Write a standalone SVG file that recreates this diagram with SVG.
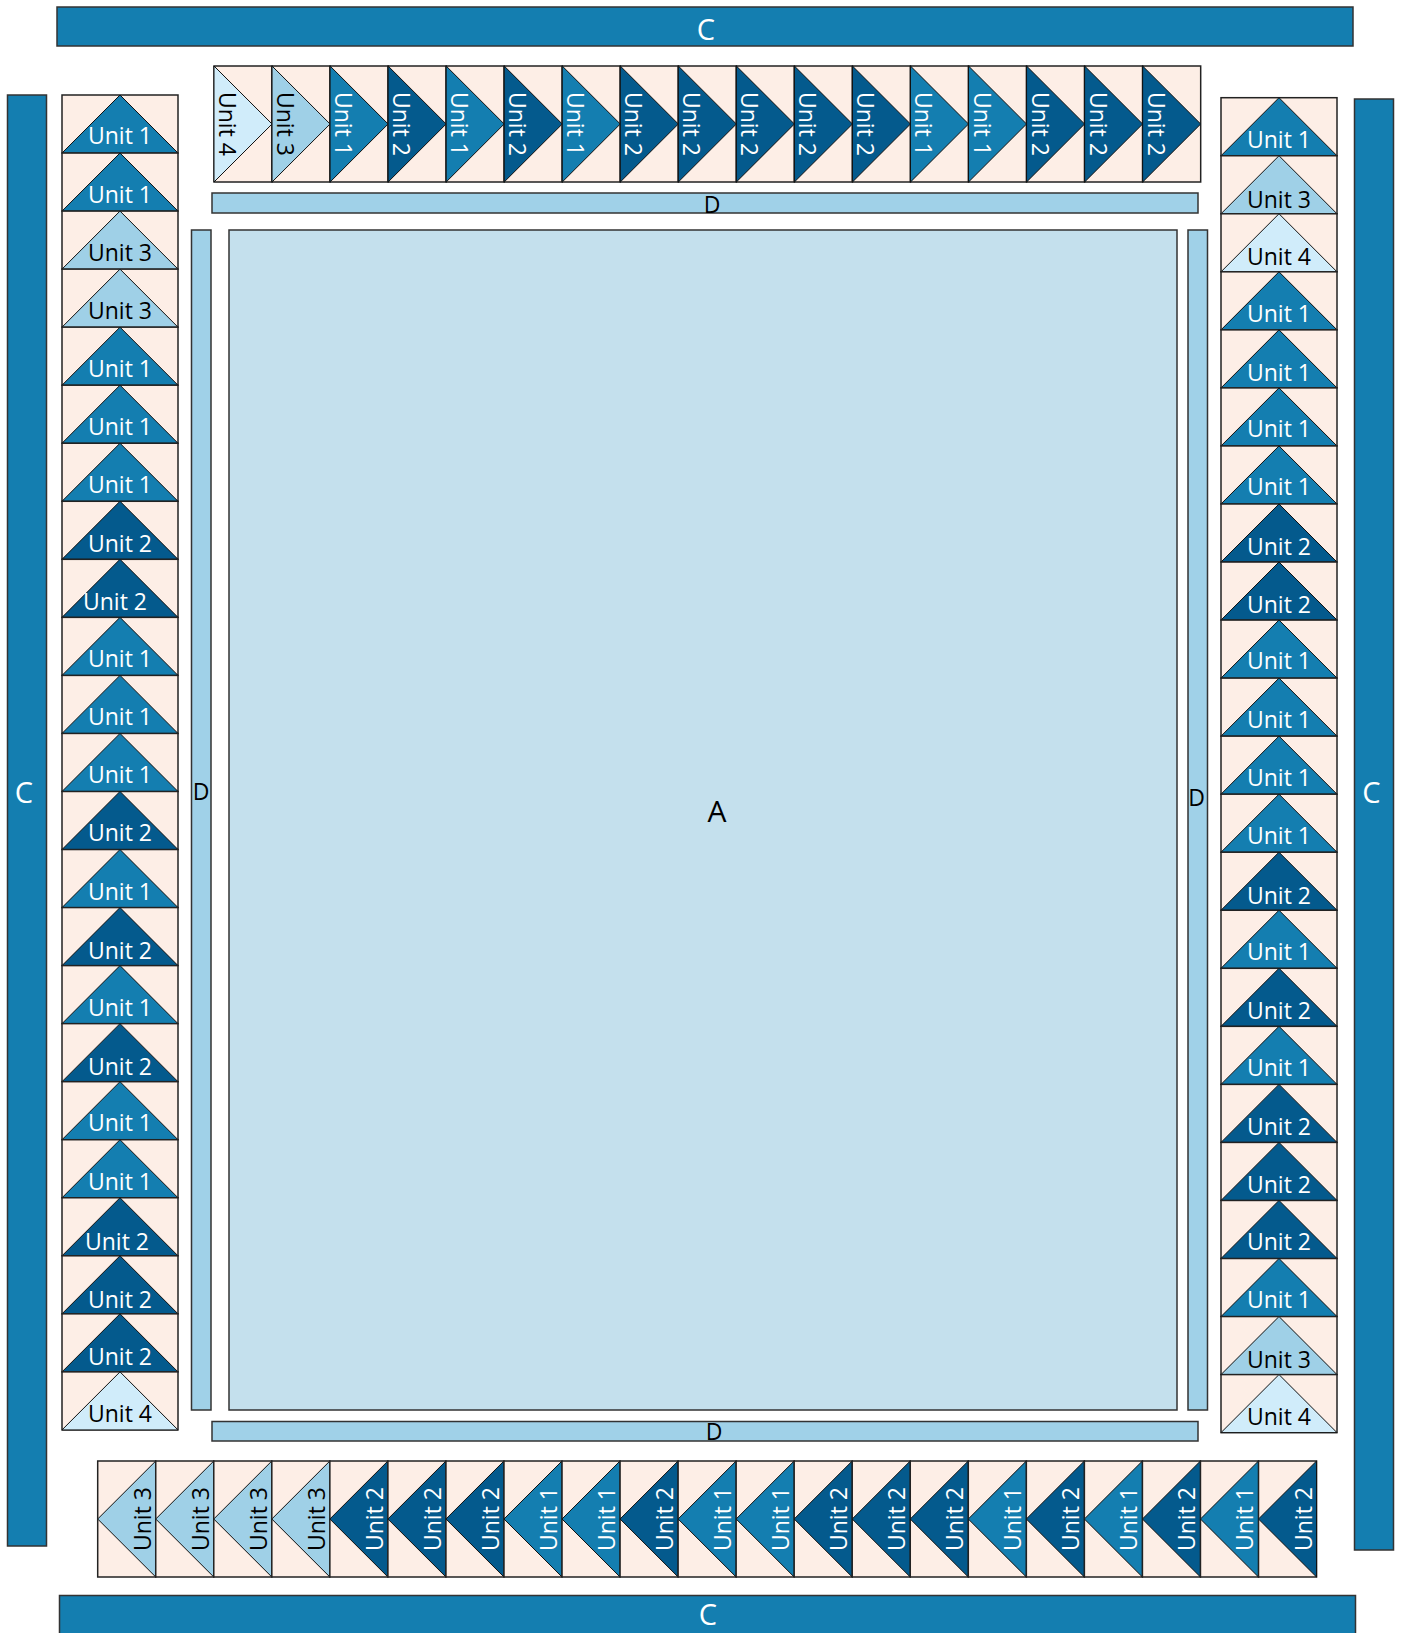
<svg xmlns="http://www.w3.org/2000/svg" width="1403" height="1633" viewBox="0 0 1403 1633">
<style>
text{font-family:"Open Sans","Noto Sans","Liberation Sans",sans-serif;}
.bg{fill:#fdeee6;stroke:#222;stroke-width:1.5;}
.u1{fill:#147eb0;stroke:#111;stroke-width:1;}
.u2{fill:#045a8d;stroke:#111;stroke-width:1;}
.u3{fill:#9fd0e7;stroke:#111;stroke-width:1;}
.u4{fill:#d0ecfa;stroke:#111;stroke-width:1;}
.w{fill:#ffffff;font-size:23px;text-anchor:middle;}
.k{fill:#000000;font-size:23px;text-anchor:middle;}
.cbar{fill:#147eb0;stroke:#333;stroke-width:1.5;}
.dbar{fill:#a0d1e8;stroke:#333;stroke-width:1.5;}
.abox{fill:#c4e0ed;stroke:#333;stroke-width:1.5;}
.lc{fill:#ffffff;font-size:29px;text-anchor:middle;}
.ld{fill:#000000;font-size:23px;text-anchor:middle;}
.la{fill:#000000;font-size:30px;text-anchor:middle;}
</style>
<rect width="1403" height="1633" fill="#ffffff"/>
<g id="connectors"/>

<g id="C-top"><rect class="cbar" x="57" y="7" width="1296" height="39"/><text class="lc" x="706" y="40">C</text></g>
<g id="C-left"><rect class="cbar" x="7.5" y="95" width="39" height="1451"/><text class="lc" x="24" y="803">C</text></g>
<g id="C-right"><rect class="cbar" x="1354.5" y="99" width="39" height="1451"/><text class="lc" x="1371.5" y="803">C</text></g>
<g id="C-bottom"><rect class="cbar" x="59.5" y="1595.5" width="1296" height="45"/><text class="lc" x="708" y="1625">C</text></g>

<g id="D-top"><rect class="dbar" x="212" y="193" width="986" height="20"/><text class="ld" x="712" y="213">D</text></g>
<g id="D-bottom"><rect class="dbar" x="212" y="1421.5" width="986" height="19.5"/><text class="ld" x="714" y="1440">D</text></g>
<g id="D-left"><rect class="dbar" x="191.5" y="230" width="19.5" height="1180"/><text class="ld" x="201" y="800">D</text></g>
<g id="D-right"><rect class="dbar" x="1188" y="230" width="19.5" height="1180"/><text class="ld" x="1196.5" y="806">D</text></g>

<g id="A"><rect class="abox" x="229" y="230" width="948" height="1180"/><text class="la" x="717" y="822">A</text></g>

<!-- top row -->
<g id="T0" transform="translate(214,66)"><rect class="bg" width="58.04" height="116"/><polygon class="u4" points="0,0 58.04,58 0,116"/><text class="k" transform="translate(5,58) rotate(90)">Unit 4</text></g>
<g id="T1" transform="translate(272.04,66)"><rect class="bg" width="58.04" height="116"/><polygon class="u3" points="0,0 58.04,58 0,116"/><text class="k" transform="translate(5,58) rotate(90)">Unit 3</text></g>
<g id="T2" transform="translate(330.08,66)"><rect class="bg" width="58.04" height="116"/><polygon class="u1" points="0,0 58.04,58 0,116"/><text class="w" transform="translate(5,58) rotate(90)">Unit 1</text></g>
<g id="T3" transform="translate(388.12,66)"><rect class="bg" width="58.04" height="116"/><polygon class="u2" points="0,0 58.04,58 0,116"/><text class="w" transform="translate(5,58) rotate(90)">Unit 2</text></g>
<g id="T4" transform="translate(446.16,66)"><rect class="bg" width="58.04" height="116"/><polygon class="u1" points="0,0 58.04,58 0,116"/><text class="w" transform="translate(5,58) rotate(90)">Unit 1</text></g>
<g id="T5" transform="translate(504.2,66)"><rect class="bg" width="58.04" height="116"/><polygon class="u2" points="0,0 58.04,58 0,116"/><text class="w" transform="translate(5,58) rotate(90)">Unit 2</text></g>
<g id="T6" transform="translate(562.24,66)"><rect class="bg" width="58.04" height="116"/><polygon class="u1" points="0,0 58.04,58 0,116"/><text class="w" transform="translate(5,58) rotate(90)">Unit 1</text></g>
<g id="T7" transform="translate(620.28,66)"><rect class="bg" width="58.04" height="116"/><polygon class="u2" points="0,0 58.04,58 0,116"/><text class="w" transform="translate(5,58) rotate(90)">Unit 2</text></g>
<g id="T8" transform="translate(678.32,66)"><rect class="bg" width="58.04" height="116"/><polygon class="u2" points="0,0 58.04,58 0,116"/><text class="w" transform="translate(5,58) rotate(90)">Unit 2</text></g>
<g id="T9" transform="translate(736.36,66)"><rect class="bg" width="58.04" height="116"/><polygon class="u2" points="0,0 58.04,58 0,116"/><text class="w" transform="translate(5,58) rotate(90)">Unit 2</text></g>
<g id="T10" transform="translate(794.4,66)"><rect class="bg" width="58.04" height="116"/><polygon class="u2" points="0,0 58.04,58 0,116"/><text class="w" transform="translate(5,58) rotate(90)">Unit 2</text></g>
<g id="T11" transform="translate(852.44,66)"><rect class="bg" width="58.04" height="116"/><polygon class="u2" points="0,0 58.04,58 0,116"/><text class="w" transform="translate(5,58) rotate(90)">Unit 2</text></g>
<g id="T12" transform="translate(910.48,66)"><rect class="bg" width="58.04" height="116"/><polygon class="u1" points="0,0 58.04,58 0,116"/><text class="w" transform="translate(5,58) rotate(90)">Unit 1</text></g>
<g id="T13" transform="translate(968.52,66)"><rect class="bg" width="58.04" height="116"/><polygon class="u1" points="0,0 58.04,58 0,116"/><text class="w" transform="translate(5,58) rotate(90)">Unit 1</text></g>
<g id="T14" transform="translate(1026.56,66)"><rect class="bg" width="58.04" height="116"/><polygon class="u2" points="0,0 58.04,58 0,116"/><text class="w" transform="translate(5,58) rotate(90)">Unit 2</text></g>
<g id="T15" transform="translate(1084.6,66)"><rect class="bg" width="58.04" height="116"/><polygon class="u2" points="0,0 58.04,58 0,116"/><text class="w" transform="translate(5,58) rotate(90)">Unit 2</text></g>
<g id="T16" transform="translate(1142.64,66)"><rect class="bg" width="58.04" height="116"/><polygon class="u2" points="0,0 58.04,58 0,116"/><text class="w" transform="translate(5,58) rotate(90)">Unit 2</text></g>

<!-- left column -->
<g id="L0" transform="translate(62,95)"><rect class="bg" width="116" height="58.04"/><polygon class="u1" points="0,58.04 58,0 116,58.04"/><text class="w" x="58" y="49">Unit 1</text></g>
<g id="L1" transform="translate(62,153.04)"><rect class="bg" width="116" height="58.04"/><polygon class="u1" points="0,58.04 58,0 116,58.04"/><text class="w" x="58" y="50">Unit 1</text></g>
<g id="L2" transform="translate(62,211.08)"><rect class="bg" width="116" height="58.04"/><polygon class="u3" points="0,58.04 58,0 116,58.04"/><text class="k" x="58" y="50">Unit 3</text></g>
<g id="L3" transform="translate(62,269.12)"><rect class="bg" width="116" height="58.04"/><polygon class="u3" points="0,58.04 58,0 116,58.04"/><text class="k" x="58" y="50">Unit 3</text></g>
<g id="L4" transform="translate(62,327.16)"><rect class="bg" width="116" height="58.04"/><polygon class="u1" points="0,58.04 58,0 116,58.04"/><text class="w" x="58" y="50">Unit 1</text></g>
<g id="L5" transform="translate(62,385.2)"><rect class="bg" width="116" height="58.04"/><polygon class="u1" points="0,58.04 58,0 116,58.04"/><text class="w" x="58" y="50">Unit 1</text></g>
<g id="L6" transform="translate(62,443.24)"><rect class="bg" width="116" height="58.04"/><polygon class="u1" points="0,58.04 58,0 116,58.04"/><text class="w" x="58" y="50">Unit 1</text></g>
<g id="L7" transform="translate(62,501.28)"><rect class="bg" width="116" height="58.04"/><polygon class="u2" points="0,58.04 58,0 116,58.04"/><text class="w" x="58" y="51">Unit 2</text></g>
<g id="L8" transform="translate(62,559.32)"><rect class="bg" width="116" height="58.04"/><polygon class="u2" points="0,58.04 58,0 116,58.04"/><text class="w" x="53" y="51">Unit 2</text></g>
<g id="L9" transform="translate(62,617.36)"><rect class="bg" width="116" height="58.04"/><polygon class="u1" points="0,58.04 58,0 116,58.04"/><text class="w" x="58" y="50">Unit 1</text></g>
<g id="L10" transform="translate(62,675.4)"><rect class="bg" width="116" height="58.04"/><polygon class="u1" points="0,58.04 58,0 116,58.04"/><text class="w" x="58" y="50">Unit 1</text></g>
<g id="L11" transform="translate(62,733.44)"><rect class="bg" width="116" height="58.04"/><polygon class="u1" points="0,58.04 58,0 116,58.04"/><text class="w" x="58" y="50">Unit 1</text></g>
<g id="L12" transform="translate(62,791.48)"><rect class="bg" width="116" height="58.04"/><polygon class="u2" points="0,58.04 58,0 116,58.04"/><text class="w" x="58" y="50">Unit 2</text></g>
<g id="L13" transform="translate(62,849.52)"><rect class="bg" width="116" height="58.04"/><polygon class="u1" points="0,58.04 58,0 116,58.04"/><text class="w" x="58" y="50">Unit 1</text></g>
<g id="L14" transform="translate(62,907.56)"><rect class="bg" width="116" height="58.04"/><polygon class="u2" points="0,58.04 58,0 116,58.04"/><text class="w" x="58" y="51">Unit 2</text></g>
<g id="L15" transform="translate(62,965.6)"><rect class="bg" width="116" height="58.04"/><polygon class="u1" points="0,58.04 58,0 116,58.04"/><text class="w" x="58" y="50">Unit 1</text></g>
<g id="L16" transform="translate(62,1023.64)"><rect class="bg" width="116" height="58.04"/><polygon class="u2" points="0,58.04 58,0 116,58.04"/><text class="w" x="58" y="51">Unit 2</text></g>
<g id="L17" transform="translate(62,1081.68)"><rect class="bg" width="116" height="58.04"/><polygon class="u1" points="0,58.04 58,0 116,58.04"/><text class="w" x="58" y="49">Unit 1</text></g>
<g id="L18" transform="translate(62,1139.72)"><rect class="bg" width="116" height="58.04"/><polygon class="u1" points="0,58.04 58,0 116,58.04"/><text class="w" x="58" y="50">Unit 1</text></g>
<g id="L19" transform="translate(62,1197.76)"><rect class="bg" width="116" height="58.04"/><polygon class="u2" points="0,58.04 58,0 116,58.04"/><text class="w" x="55" y="52">Unit 2</text></g>
<g id="L20" transform="translate(62,1255.8)"><rect class="bg" width="116" height="58.04"/><polygon class="u2" points="0,58.04 58,0 116,58.04"/><text class="w" x="58" y="52">Unit 2</text></g>
<g id="L21" transform="translate(62,1313.84)"><rect class="bg" width="116" height="58.04"/><polygon class="u2" points="0,58.04 58,0 116,58.04"/><text class="w" x="58" y="51">Unit 2</text></g>
<g id="L22" transform="translate(62,1371.88)"><rect class="bg" width="116" height="58.04"/><polygon class="u4" points="0,58.04 58,0 116,58.04"/><text class="k" x="58" y="50">Unit 4</text></g>

<!-- right column -->
<g id="R0" transform="translate(1221,97.7)"><rect class="bg" width="116" height="58.04"/><polygon class="u1" points="0,58.04 58,0 116,58.04"/><text class="w" x="58" y="50">Unit 1</text></g>
<g id="R1" transform="translate(1221,155.74)"><rect class="bg" width="116" height="58.04"/><polygon class="u3" points="0,58.04 58,0 116,58.04"/><text class="k" x="58" y="52">Unit 3</text></g>
<g id="R2" transform="translate(1221,213.78)"><rect class="bg" width="116" height="58.04"/><polygon class="u4" points="0,58.04 58,0 116,58.04"/><text class="k" x="58" y="51">Unit 4</text></g>
<g id="R3" transform="translate(1221,271.82)"><rect class="bg" width="116" height="58.04"/><polygon class="u1" points="0,58.04 58,0 116,58.04"/><text class="w" x="58" y="50">Unit 1</text></g>
<g id="R4" transform="translate(1221,329.86)"><rect class="bg" width="116" height="58.04"/><polygon class="u1" points="0,58.04 58,0 116,58.04"/><text class="w" x="58" y="51">Unit 1</text></g>
<g id="R5" transform="translate(1221,387.9)"><rect class="bg" width="116" height="58.04"/><polygon class="u1" points="0,58.04 58,0 116,58.04"/><text class="w" x="58" y="49">Unit 1</text></g>
<g id="R6" transform="translate(1221,445.94)"><rect class="bg" width="116" height="58.04"/><polygon class="u1" points="0,58.04 58,0 116,58.04"/><text class="w" x="58" y="49">Unit 1</text></g>
<g id="R7" transform="translate(1221,503.98)"><rect class="bg" width="116" height="58.04"/><polygon class="u2" points="0,58.04 58,0 116,58.04"/><text class="w" x="58" y="51">Unit 2</text></g>
<g id="R8" transform="translate(1221,562.02)"><rect class="bg" width="116" height="58.04"/><polygon class="u2" points="0,58.04 58,0 116,58.04"/><text class="w" x="58" y="51">Unit 2</text></g>
<g id="R9" transform="translate(1221,620.06)"><rect class="bg" width="116" height="58.04"/><polygon class="u1" points="0,58.04 58,0 116,58.04"/><text class="w" x="58" y="49">Unit 1</text></g>
<g id="R10" transform="translate(1221,678.1)"><rect class="bg" width="116" height="58.04"/><polygon class="u1" points="0,58.04 58,0 116,58.04"/><text class="w" x="58" y="50">Unit 1</text></g>
<g id="R11" transform="translate(1221,736.14)"><rect class="bg" width="116" height="58.04"/><polygon class="u1" points="0,58.04 58,0 116,58.04"/><text class="w" x="58" y="50">Unit 1</text></g>
<g id="R12" transform="translate(1221,794.18)"><rect class="bg" width="116" height="58.04"/><polygon class="u1" points="0,58.04 58,0 116,58.04"/><text class="w" x="58" y="50">Unit 1</text></g>
<g id="R13" transform="translate(1221,852.22)"><rect class="bg" width="116" height="58.04"/><polygon class="u2" points="0,58.04 58,0 116,58.04"/><text class="w" x="58" y="52">Unit 2</text></g>
<g id="R14" transform="translate(1221,910.26)"><rect class="bg" width="116" height="58.04"/><polygon class="u1" points="0,58.04 58,0 116,58.04"/><text class="w" x="58" y="50">Unit 1</text></g>
<g id="R15" transform="translate(1221,968.3)"><rect class="bg" width="116" height="58.04"/><polygon class="u2" points="0,58.04 58,0 116,58.04"/><text class="w" x="58" y="51">Unit 2</text></g>
<g id="R16" transform="translate(1221,1026.34)"><rect class="bg" width="116" height="58.04"/><polygon class="u1" points="0,58.04 58,0 116,58.04"/><text class="w" x="58" y="50">Unit 1</text></g>
<g id="R17" transform="translate(1221,1084.38)"><rect class="bg" width="116" height="58.04"/><polygon class="u2" points="0,58.04 58,0 116,58.04"/><text class="w" x="58" y="51">Unit 2</text></g>
<g id="R18" transform="translate(1221,1142.42)"><rect class="bg" width="116" height="58.04"/><polygon class="u2" points="0,58.04 58,0 116,58.04"/><text class="w" x="58" y="51">Unit 2</text></g>
<g id="R19" transform="translate(1221,1200.46)"><rect class="bg" width="116" height="58.04"/><polygon class="u2" points="0,58.04 58,0 116,58.04"/><text class="w" x="58" y="50">Unit 2</text></g>
<g id="R20" transform="translate(1221,1258.5)"><rect class="bg" width="116" height="58.04"/><polygon class="u1" points="0,58.04 58,0 116,58.04"/><text class="w" x="58" y="49">Unit 1</text></g>
<g id="R21" transform="translate(1221,1316.54)"><rect class="bg" width="116" height="58.04"/><polygon class="u3" points="0,58.04 58,0 116,58.04"/><text class="k" x="58" y="51">Unit 3</text></g>
<g id="R22" transform="translate(1221,1374.58)"><rect class="bg" width="116" height="58.04"/><polygon class="u4" points="0,58.04 58,0 116,58.04"/><text class="k" x="58" y="50">Unit 4</text></g>

<!-- bottom row -->
<g id="B0" transform="translate(97.7,1461)"><rect class="bg" width="58.04" height="116"/><polygon class="u3" points="58.04,0 0,58 58.04,116"/><text class="k" transform="translate(53,58) rotate(-90)">Unit 3</text></g>
<g id="B1" transform="translate(155.74,1461)"><rect class="bg" width="58.04" height="116"/><polygon class="u3" points="58.04,0 0,58 58.04,116"/><text class="k" transform="translate(53,58) rotate(-90)">Unit 3</text></g>
<g id="B2" transform="translate(213.78,1461)"><rect class="bg" width="58.04" height="116"/><polygon class="u3" points="58.04,0 0,58 58.04,116"/><text class="k" transform="translate(53,58) rotate(-90)">Unit 3</text></g>
<g id="B3" transform="translate(271.82,1461)"><rect class="bg" width="58.04" height="116"/><polygon class="u3" points="58.04,0 0,58 58.04,116"/><text class="k" transform="translate(53,58) rotate(-90)">Unit 3</text></g>
<g id="B4" transform="translate(329.86,1461)"><rect class="bg" width="58.04" height="116"/><polygon class="u2" points="58.04,0 0,58 58.04,116"/><text class="w" transform="translate(53,58) rotate(-90)">Unit 2</text></g>
<g id="B5" transform="translate(387.9,1461)"><rect class="bg" width="58.04" height="116"/><polygon class="u2" points="58.04,0 0,58 58.04,116"/><text class="w" transform="translate(53,58) rotate(-90)">Unit 2</text></g>
<g id="B6" transform="translate(445.94,1461)"><rect class="bg" width="58.04" height="116"/><polygon class="u2" points="58.04,0 0,58 58.04,116"/><text class="w" transform="translate(53,58) rotate(-90)">Unit 2</text></g>
<g id="B7" transform="translate(503.98,1461)"><rect class="bg" width="58.04" height="116"/><polygon class="u1" points="58.04,0 0,58 58.04,116"/><text class="w" transform="translate(53,58) rotate(-90)">Unit 1</text></g>
<g id="B8" transform="translate(562.02,1461)"><rect class="bg" width="58.04" height="116"/><polygon class="u1" points="58.04,0 0,58 58.04,116"/><text class="w" transform="translate(53,58) rotate(-90)">Unit 1</text></g>
<g id="B9" transform="translate(620.06,1461)"><rect class="bg" width="58.04" height="116"/><polygon class="u2" points="58.04,0 0,58 58.04,116"/><text class="w" transform="translate(53,58) rotate(-90)">Unit 2</text></g>
<g id="B10" transform="translate(678.1,1461)"><rect class="bg" width="58.04" height="116"/><polygon class="u1" points="58.04,0 0,58 58.04,116"/><text class="w" transform="translate(53,58) rotate(-90)">Unit 1</text></g>
<g id="B11" transform="translate(736.14,1461)"><rect class="bg" width="58.04" height="116"/><polygon class="u1" points="58.04,0 0,58 58.04,116"/><text class="w" transform="translate(53,58) rotate(-90)">Unit 1</text></g>
<g id="B12" transform="translate(794.18,1461)"><rect class="bg" width="58.04" height="116"/><polygon class="u2" points="58.04,0 0,58 58.04,116"/><text class="w" transform="translate(53,58) rotate(-90)">Unit 2</text></g>
<g id="B13" transform="translate(852.22,1461)"><rect class="bg" width="58.04" height="116"/><polygon class="u2" points="58.04,0 0,58 58.04,116"/><text class="w" transform="translate(53,58) rotate(-90)">Unit 2</text></g>
<g id="B14" transform="translate(910.26,1461)"><rect class="bg" width="58.04" height="116"/><polygon class="u2" points="58.04,0 0,58 58.04,116"/><text class="w" transform="translate(53,58) rotate(-90)">Unit 2</text></g>
<g id="B15" transform="translate(968.3,1461)"><rect class="bg" width="58.04" height="116"/><polygon class="u1" points="58.04,0 0,58 58.04,116"/><text class="w" transform="translate(53,58) rotate(-90)">Unit 1</text></g>
<g id="B16" transform="translate(1026.34,1461)"><rect class="bg" width="58.04" height="116"/><polygon class="u2" points="58.04,0 0,58 58.04,116"/><text class="w" transform="translate(53,58) rotate(-90)">Unit 2</text></g>
<g id="B17" transform="translate(1084.38,1461)"><rect class="bg" width="58.04" height="116"/><polygon class="u1" points="58.04,0 0,58 58.04,116"/><text class="w" transform="translate(53,58) rotate(-90)">Unit 1</text></g>
<g id="B18" transform="translate(1142.42,1461)"><rect class="bg" width="58.04" height="116"/><polygon class="u2" points="58.04,0 0,58 58.04,116"/><text class="w" transform="translate(53,58) rotate(-90)">Unit 2</text></g>
<g id="B19" transform="translate(1200.46,1461)"><rect class="bg" width="58.04" height="116"/><polygon class="u1" points="58.04,0 0,58 58.04,116"/><text class="w" transform="translate(53,58) rotate(-90)">Unit 1</text></g>
<g id="B20" transform="translate(1258.5,1461)"><rect class="bg" width="58.04" height="116"/><polygon class="u2" points="58.04,0 0,58 58.04,116"/><text class="w" transform="translate(53,58) rotate(-90)">Unit 2</text></g>
</svg>
